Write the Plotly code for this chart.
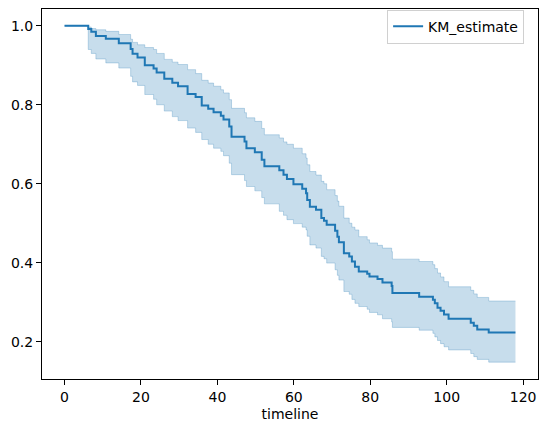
import plotly.graph_objects as go

# Kaplan-Meier estimate
timeline = [0, 6.2, 7.0, 8.2, 10.8, 14.2, 17.3, 17.8, 19.1, 21.0, 23.3, 24.1, 26.1, 28.2, 29.7,
            32.2, 34.3, 35.9, 37.6, 39.0, 40.9, 41.6, 43.1, 43.7, 47.1, 47.6, 49.8, 51.6, 52.3,
            56.2, 57.3, 58.2, 59.9, 62.2, 63.2, 63.5, 64.2, 65.8, 67.2, 67.9, 68.6, 70.8, 71.4,
            71.8, 73.1, 74.5, 75.2, 76.0, 77.0, 79.2, 79.8, 81.9, 83.2, 85.6, 85.8, 92.8, 96.4,
            96.9, 97.6, 98.4, 99.3, 100.5, 106.3, 107.1, 108.0, 111.0, 118.0]
km_estimate = [1.000, 0.992, 0.985, 0.974, 0.967, 0.956, 0.941, 0.929, 0.920, 0.900, 0.892, 0.882,
               0.866, 0.856, 0.847, 0.827, 0.820, 0.798, 0.790, 0.781, 0.772, 0.763, 0.745, 0.719,
               0.707, 0.690, 0.680, 0.661, 0.644, 0.634, 0.623, 0.612, 0.599, 0.587, 0.576, 0.559,
               0.542, 0.534, 0.513, 0.506, 0.496, 0.481, 0.466, 0.452, 0.424, 0.416, 0.403, 0.390,
               0.378, 0.372, 0.365, 0.359, 0.350, 0.341, 0.323, 0.314, 0.306, 0.297, 0.286, 0.278,
               0.269, 0.258, 0.248, 0.240, 0.231, 0.223, 0.223]
ci_upper = [1.000, 0.997, 0.993, 0.990, 0.986, 0.978, 0.966, 0.958, 0.952, 0.945, 0.940, 0.930,
            0.915, 0.908, 0.902, 0.889, 0.879, 0.862, 0.855, 0.847, 0.838, 0.830, 0.813, 0.791,
            0.780, 0.767, 0.758, 0.740, 0.724, 0.716, 0.706, 0.700, 0.690, 0.676, 0.665, 0.648,
            0.631, 0.622, 0.606, 0.600, 0.585, 0.570, 0.556, 0.543, 0.513, 0.500, 0.490, 0.483,
            0.466, 0.458, 0.450, 0.444, 0.437, 0.428, 0.409, 0.403, 0.395, 0.385, 0.374, 0.364,
            0.352, 0.339, 0.330, 0.321, 0.312, 0.303, 0.303]
ci_lower = [1.000, 0.940, 0.930, 0.916, 0.906, 0.893, 0.872, 0.858, 0.849, 0.826, 0.814, 0.800,
            0.784, 0.770, 0.760, 0.741, 0.730, 0.712, 0.700, 0.690, 0.682, 0.671, 0.652, 0.623,
            0.608, 0.593, 0.582, 0.565, 0.549, 0.530, 0.520, 0.509, 0.499, 0.490, 0.483, 0.467,
            0.445, 0.437, 0.416, 0.410, 0.399, 0.382, 0.368, 0.356, 0.327, 0.320, 0.307, 0.297,
            0.289, 0.282, 0.274, 0.268, 0.258, 0.250, 0.236, 0.229, 0.221, 0.212, 0.203, 0.195,
            0.187, 0.179, 0.170, 0.162, 0.155, 0.148, 0.148]

x_ticks = [0, 20, 40, 60, 80, 100, 120]
y_ticks = [0.2, 0.4, 0.6, 0.8, 1.0]

C0 = "#1f77b4"
band = "rgba(31,119,180,0.25)"

fig = go.Figure()
fig.add_trace(go.Scatter(x=timeline, y=ci_lower, mode="lines", line=dict(color=band, width=1, shape="hv"),
                         showlegend=False, hoverinfo="skip"))
fig.add_trace(go.Scatter(x=timeline, y=ci_upper, mode="lines", line=dict(color=band, width=1, shape="hv"),
                         fill="tonexty", fillcolor=band, showlegend=False, hoverinfo="skip"))
fig.add_trace(go.Scatter(x=timeline, y=km_estimate, mode="lines", name="KM_estimate",
                         line=dict(color=C0, width=2, shape="hv")))

xmin, xmax = min(timeline), max(timeline)
ymin, ymax = min(ci_lower), max(ci_upper)
xpad = (xmax - xmin) * 0.05
ypad = (ymax - ymin) * 0.05

axis_common = dict(showline=True, mirror=True, linecolor="black", linewidth=1,
                   ticks="outside", ticklen=5, tickcolor="black", tickwidth=1,
                   showgrid=False, zeroline=False,
                   tickfont=dict(family="DejaVu Sans", size=14, color="black"))

fig.update_xaxes(range=[xmin - xpad, xmax + xpad], tickvals=x_ticks,
                 title=dict(text="timeline", font=dict(family="DejaVu Sans", size=14, color="black"), standoff=5),
                 **axis_common)
fig.update_yaxes(range=[ymin - ypad, ymax + ypad], tickvals=y_ticks, tickformat=".1f", **axis_common)

fig.update_layout(
    width=547, height=432,
    margin=dict(l=42, r=9, t=9, b=53),
    plot_bgcolor="white", paper_bgcolor="white",
    font=dict(family="DejaVu Sans", size=14, color="black"),
    legend=dict(x=0.972, y=0.998, xanchor="right", yanchor="top",
                bgcolor="rgba(255,255,255,0.8)", bordercolor="#d0d0d0", borderwidth=1,
                font=dict(family="DejaVu Sans", size=14, color="black"), itemwidth=30,
                tracegroupgap=0),
)

fig.write_html("out.html")
